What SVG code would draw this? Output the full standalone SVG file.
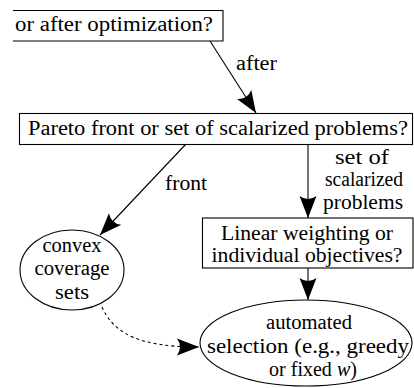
<svg xmlns="http://www.w3.org/2000/svg" width="414" height="388" viewBox="0 0 414 388">
<style>
text{fill:#000;font-size:20px}
.c{text-anchor:middle}
.box{fill:#fff;stroke:#000;stroke-width:1.1}
.edge{fill:none;stroke:#000;stroke-width:1.1}
.dash{stroke-dasharray:3,3}
</style>
<defs>
<marker id="ah" markerUnits="userSpaceOnUse" markerWidth="24" markerHeight="20" viewBox="-23 -9 24 18" refX="0" refY="0" orient="auto">
<path d="M0,0 L-22,-8.5 Q-16,0 -22,8.5 Z" fill="#000"/>
</marker>
</defs>
<g id="connectors">
<line class="edge" x1="210" y1="41" x2="256" y2="113" marker-end="url(#ah)"/>
<text font-family="Times, Tinos, Liberation Serif, serif" x="236" y="70" textLength="41" lengthAdjust="spacingAndGlyphs">after</text>
<line class="edge" x1="186" y1="144" x2="100" y2="235" marker-end="url(#ah)"/>
<text font-family="Times, Tinos, Liberation Serif, serif" x="165" y="190" textLength="42" lengthAdjust="spacingAndGlyphs">front</text>
<line class="edge" x1="308" y1="144" x2="308" y2="218" marker-end="url(#ah)"/>
<text font-family="Times, Tinos, Liberation Serif, serif" class="c" x="362" y="164" textLength="54" lengthAdjust="spacingAndGlyphs">set of</text>
<text font-family="Times, Tinos, Liberation Serif, serif" class="c" x="364" y="186" textLength="78" lengthAdjust="spacingAndGlyphs">scalarized</text>
<text font-family="Times, Tinos, Liberation Serif, serif" class="c" x="363" y="209" textLength="80" lengthAdjust="spacingAndGlyphs">problems</text>
<line class="edge" x1="308" y1="268" x2="308" y2="300" marker-end="url(#ah)"/>
<path class="edge dash" d="M102,307 C114,334 140,347 199,347" marker-end="url(#ah)"/>
</g>
<g id="n-after">
<path class="edge" d="M13,10.5 H223 V41 H13"/>
<text font-family="Times, Tinos, Liberation Serif, serif" x="15" y="31" textLength="198" lengthAdjust="spacingAndGlyphs">or after optimization?</text>
</g>
<g id="n-pareto">
<rect class="box" x="19.5" y="113.5" width="393" height="31"/>
<text font-family="Times, Tinos, Liberation Serif, serif" x="28" y="135" textLength="380" lengthAdjust="spacingAndGlyphs">Pareto front or set of scalarized problems?</text>
</g>
<g id="n-convex">
<ellipse class="box" cx="72" cy="270" rx="52" ry="40"/>
<text font-family="Times, Tinos, Liberation Serif, serif" class="c" x="72" y="252" textLength="59" lengthAdjust="spacingAndGlyphs">convex</text>
<text font-family="Times, Tinos, Liberation Serif, serif" class="c" x="72" y="275" textLength="75" lengthAdjust="spacingAndGlyphs">coverage</text>
<text font-family="Times, Tinos, Liberation Serif, serif" class="c" x="72" y="299" textLength="34" lengthAdjust="spacingAndGlyphs">sets</text>
</g>
<g id="n-linear">
<rect class="box" x="202.5" y="218" width="210.5" height="50"/>
<text font-family="Times, Tinos, Liberation Serif, serif" class="c" x="307" y="240" textLength="172" lengthAdjust="spacingAndGlyphs">Linear weighting or</text>
<text font-family="Times, Tinos, Liberation Serif, serif" class="c" x="307" y="262" textLength="191" lengthAdjust="spacingAndGlyphs">individual objectives?</text>
</g>
<g id="n-auto">
<ellipse class="box" cx="306" cy="343" rx="106" ry="43"/>
<text font-family="Times, Tinos, Liberation Serif, serif" class="c" x="309" y="329" textLength="86" lengthAdjust="spacingAndGlyphs">automated</text>
<text font-family="Times, Tinos, Liberation Serif, serif" class="c" x="308" y="353" textLength="202" lengthAdjust="spacingAndGlyphs">selection (e.g., greedy</text>
<text font-family="Times, Tinos, Liberation Serif, serif" class="c" x="313" y="376">or fixed <tspan font-style="italic">w</tspan>)</text>
</g>
</svg>
